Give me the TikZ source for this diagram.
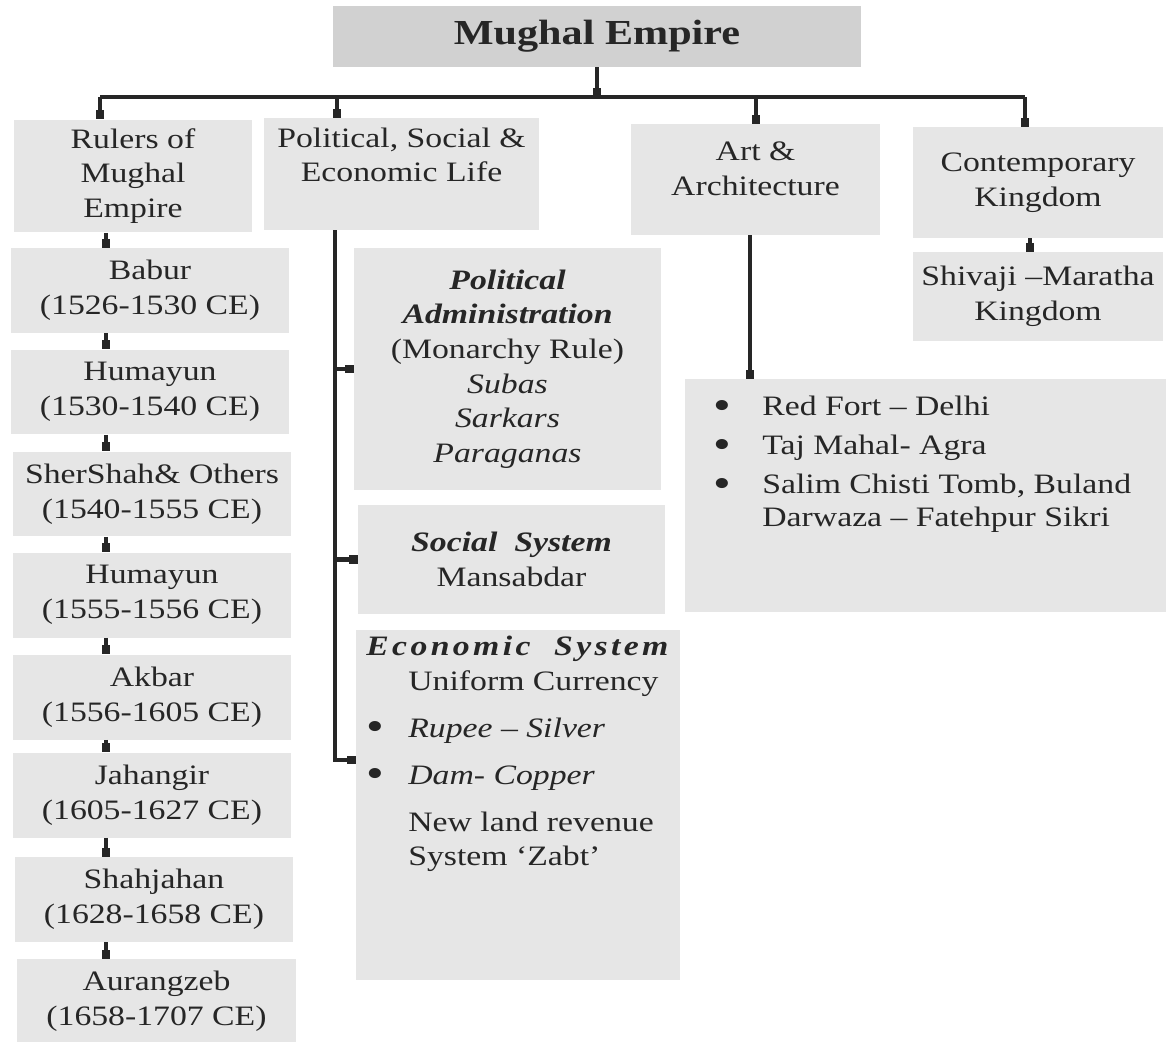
\documentclass[tikz,border=0pt]{standalone}
\usepackage{fontspec}
\setmainfont{Liberation Serif}[FakeStretch=1.2]
\newfontfamily\widefont{Liberation Serif}[FakeStretch=1.2, LetterSpace=12]
\usetikzlibrary{arrows.meta, positioning}
\definecolor{boxgray}{HTML}{E6E6E6}
\definecolor{titlegray}{HTML}{D1D1D1}
\definecolor{inkgray}{HTML}{262626}
\newcommand{\dotmark}{\raisebox{-2pt}{\fontsize{24}{18}\selectfont\textbullet}}

\begin{document}
\begin{tikzpicture}[x=0.02cm, y=-0.02cm,
  font=\fontsize{16}{19.7}\selectfont, text=inkgray,
  panel/.style={fill=boxgray, inner sep=0pt, align=center},
  ruler/.style={panel, minimum width=5.58cm, minimum height=1.7cm},
  words/.style={inner sep=0pt, align=center},
  plain/.style={draw=inkgray, line width=2.5pt},
  link/.style={plain, -{Square[length=5pt, width=5pt]}}]
\useasboundingbox[fill=white] (0,0) rectangle (1166,1041);

% top level
\node[panel, fill=titlegray, minimum width=10.56cm, minimum height=1.22cm,
  font=\fontsize{20}{24}\selectfont\bfseries] (title) at (597,36.5) {Mughal Empire};
\node[panel, minimum width=4.76cm, minimum height=2.26cm] (rulers) at (133,176) {Rulers of\\Mughal\\Empire};
\node[panel, minimum width=5.5cm, minimum height=2.24cm] (polsoc) at (401.5,174) {};
\node[words] (polsoctext) at (401.5,155) {Political, Social \&\\Economic Life};
\node[panel, minimum width=4.98cm, minimum height=2.22cm] (art) at (755.5,179.5) {};
\node[words] (arttext) at (755.5,169) {Art \&\\Architecture};
\node[panel, minimum width=5cm, minimum height=2.22cm] (kingdom) at (1038,182.5) {Contemporary\\Kingdom};
\node[panel, minimum width=5cm, minimum height=1.78cm] (shivaji) at (1038,296.5) {Shivaji –Maratha\\Kingdom};

% rulers
\foreach \name/\cx/\cy/\who/\years in {babur/150/290.5/Babur/1526-1530,
    humayunA/150/392/Humayun/1530-1540, shershah/152/494/SherShah\& Others/1540-1555,
    humayunB/152/595/Humayun/1555-1556, akbar/152/697/Akbar/1556-1605,
    jahangir/152/795/Jahangir/1605-1627, shahjahan/154/899.5/Shahjahan/1628-1658,
    aurangzeb/156.5/1001.5/Aurangzeb/1658-1707}
  \node[ruler] (\name) at (\cx,\cy) {\who\\(\years~CE)};

% political, social and economic life
\node[panel, minimum width=6.14cm, minimum height=4.84cm] (poladmin) at (507.5,369)
  {\textbf{\textit{Political}}\\\textbf{\textit{Administration}}\\(Monarchy Rule)\\
   \textit{Subas}\\\textit{Sarkars}\\\textit{Paraganas}};
\node[panel, minimum width=6.14cm, minimum height=2.18cm] (social) at (511.5,559.5)
  {\textbf{\textit{Social\ \ System}}\\Mansabdar};
\node[panel, minimum width=6.48cm, minimum height=7cm] (econ) at (518,805) {};
\node[words, align=left, anchor=west] (econtext) at (366,754)
  {{\widefont\bfseries\itshape Economic\ \ System}\\
   \makebox[0.84cm][l]{}Uniform Currency\\[7pt]
   \makebox[0.84cm][l]{\dotmark}\textit{Rupee – Silver}\\[7pt]
   \makebox[0.84cm][l]{\dotmark}\textit{Dam- Copper}\\[7pt]
   \makebox[0.84cm][l]{}New land revenue\\
   \makebox[0.84cm][l]{}System ‘Zabt’};

% art and architecture
\node[panel, minimum width=9.62cm, minimum height=4.66cm] (artlist) at (925.5,495.5) {};
\node[words, align=left, anchor=west, font=\fontsize{16}{18.3}\selectfont] (artlisttext) at (713,464)
  {\makebox[0.98cm][l]{\dotmark}Red Fort – Delhi\\[4pt]
   \makebox[0.98cm][l]{\dotmark}Taj Mahal- Agra\\[4pt]
   \makebox[0.98cm][l]{\dotmark}Salim Chisti Tomb, Buland\\
   \makebox[0.98cm][l]{}Darwaza – Fatehpur Sikri};

% connectors
\coordinate (busL) at (100,97);
\coordinate (busP) at (337,97);
\coordinate (busA) at (756,97);
\coordinate (busR) at (1025,97);
\coordinate (chain) at (106,0);
\coordinate (spine) at (335,0);
\coordinate (artline) at (750,0);
\coordinate (kline) at (1030,0);
\draw[link] (title.south) -- (title.south |- busL);
\draw[plain] (busL) -- (busR);
\draw[link] (busL) -- (busL |- rulers.north);
\draw[link] (busP) -- (busP |- polsoc.north);
\draw[link] (busA) -- (busA |- art.north);
\draw[link] (busR) -- (busR |- kingdom.north);
\foreach \a/\b in {rulers/babur, babur/humayunA, humayunA/shershah, shershah/humayunB,
    humayunB/akbar, akbar/jahangir, jahangir/shahjahan, shahjahan/aurangzeb}
  \draw[link] (\a.south -| chain) -- (\b.north -| chain);
\draw[link] (polsoc.south -| spine) |- ([yshift=0.9cm]econ.west);
\draw[link] (poladmin.west -| spine) -- (poladmin.west);
\draw[link] (social.west -| spine) -- (social.west);
\draw[link] (art.south -| artline) -- (artlist.north -| artline);
\draw[link] (kingdom.south -| kline) -- (shivaji.north -| kline);
\end{tikzpicture}
\end{document}
